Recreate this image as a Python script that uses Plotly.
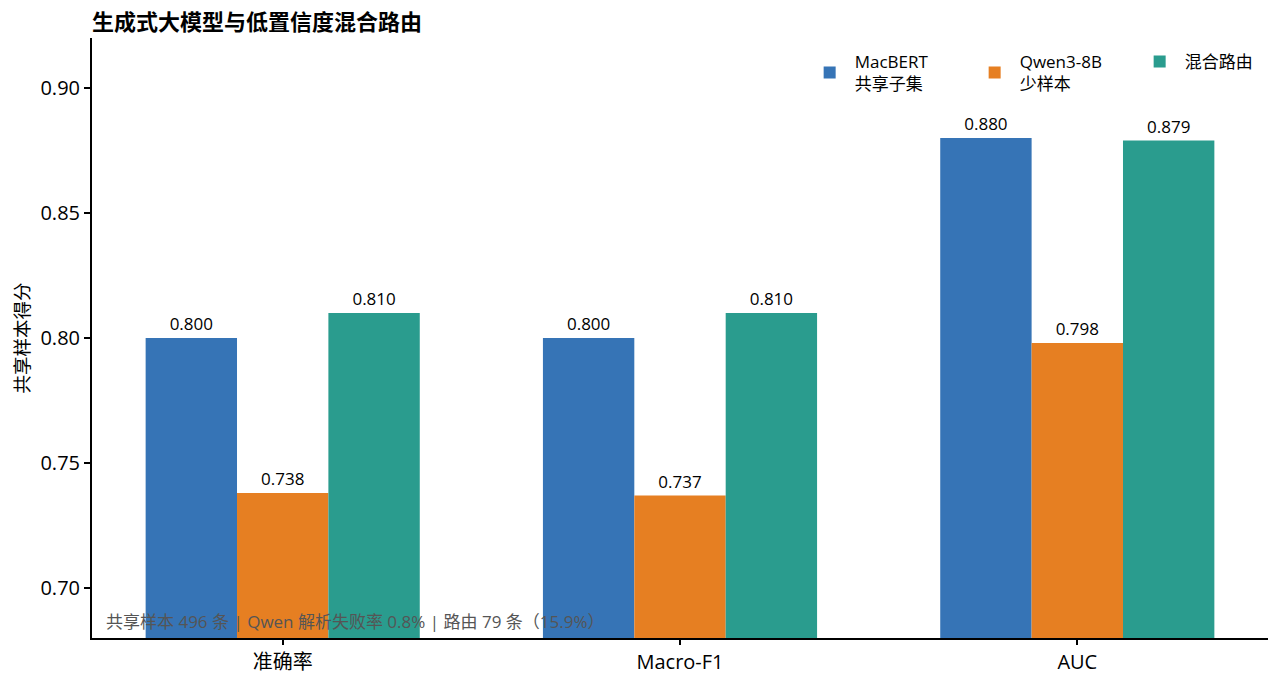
import plotly.graph_objects as go

categories = ["准确率", "Macro-F1", "AUC"]
series_names = ["MacBERT<br>共享子集", "Qwen3-8B<br>少样本", "混合路由"]
macbert = [0.800, 0.800, 0.880]
qwen = [0.738, 0.737, 0.798]
hybrid = [0.810, 0.810, 0.879]
colors = ["#3674b6", "#e67f22", "#2a9c8e"]
yticks = [0.70, 0.75, 0.80, 0.85, 0.90]
note = "共享样本 496 条 | Qwen 解析失败率 0.8% | 路由 79 条（15.9%）"
title = "生成式大模型与低置信度混合路由"
ytitle = "共享样本得分"

FONT = "Open Sans, Noto Sans CJK SC, sans-serif"
CJK = "Noto Sans CJK SC, sans-serif"

fig = go.Figure()
for name, vals, col in zip(series_names, [macbert, qwen, hybrid], colors):
    fig.add_trace(go.Bar(
        x=categories, y=vals, name=name, marker=dict(color=col, line=dict(width=0)),
        text=[f"{v:.3f}" for v in vals], textposition="outside",
        textfont=dict(size=17, color="black", family=FONT),
        cliponaxis=False, constraintext="none",
    ))

# page body has an 8px margin, so the figure starts at (8, 8) in the window
fig.update_layout(
    width=1272, height=670,
    margin=dict(l=84, r=12, t=30, b=40, autoexpand=False),
    paper_bgcolor="white", plot_bgcolor="white",
    font=dict(family=FONT, size=17, color="black"),
    barmode="group", bargap=0.31, bargroupgap=0,
    title=dict(text=f"<b>{title}</b>", x=0.0, xref="paper", xanchor="left",
               y=1 - 14 / 670, yref="container", yanchor="middle",
               font=dict(size=22, color="black", family=CJK)),
    legend=dict(orientation="h", x=0.606, xanchor="left", y=0.99, yanchor="top",
                font=dict(size=17), bgcolor="rgba(0,0,0,0)", traceorder="normal",
                itemwidth=40, entrywidth=110),
    xaxis=dict(range=[-0.48, 2.48], showline=True, linecolor="black", linewidth=2,
               ticks="outside", ticklen=5, tickcolor="black", tickwidth=1.5,
               tickfont=dict(size=20), showgrid=False, zeroline=False, automargin=False),
    yaxis=dict(range=[0.68, 0.92], tickvals=yticks, ticktext=[f"{t:.2f}" for t in yticks],
               showline=True, linecolor="black", linewidth=2,
               ticks="outside", ticklen=6, tickcolor="black", tickwidth=1.5,
               tickfont=dict(size=20), showgrid=False, zeroline=False, automargin=False,
               title=dict(text=ytitle, font=dict(size=18.5, family=CJK), standoff=8)),
    annotations=[dict(text=note, xref="paper", yref="paper", x=0.0102, y=0.028,
                      xanchor="left", yanchor="middle", showarrow=False,
                      font=dict(size=17, color="#555555"))],
)

fig.write_html("out.html")
